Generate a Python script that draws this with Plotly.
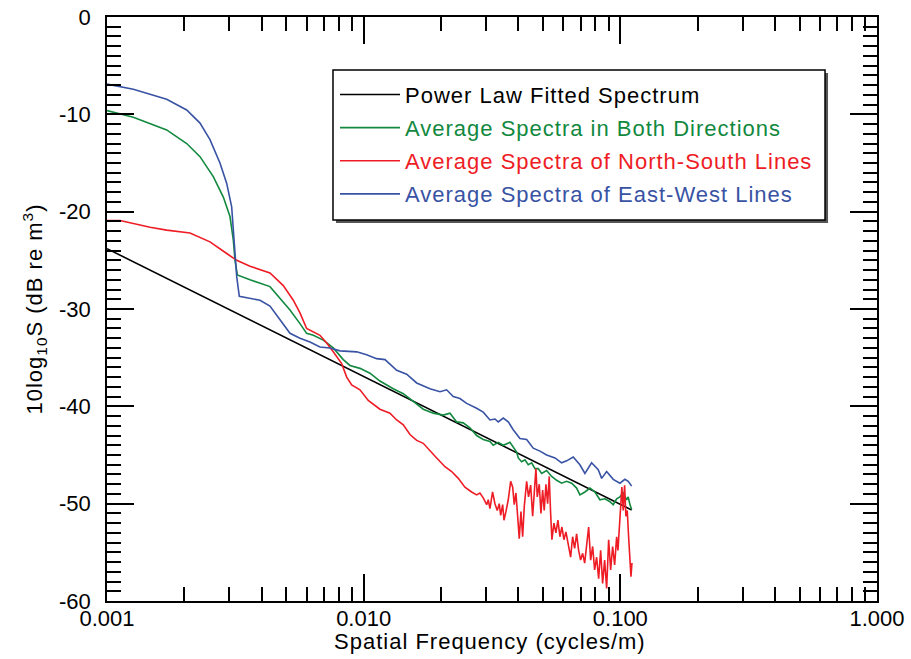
import plotly.graph_objects as go

# ---------------- data ----------------
fit_freq = [0.001, 0.1107]
fit_db = [-23.8, -50.65]

both_freq = [0.001, 0.001266, 0.001708, 0.002044, 0.002303, 0.002595, 0.002839, 0.003014,
             0.003105, 0.003153, 0.003219, 0.003607, 0.004315, 0.004720, 0.005163, 0.005647,
             0.005996, 0.006366, 0.006960, 0.007613, 0.008327, 0.008844, 0.009674, 0.01058,
             0.01157, 0.01304, 0.01427, 0.01561, 0.01707, 0.01867, 0.02042, 0.02169, 0.02303,
             0.02443, 0.02595, 0.02755, 0.02923, 0.03105, 0.03198, 0.03345, 0.03498, 0.03715,
             0.03945, 0.04003, 0.04126, 0.04250, 0.04377, 0.04514, 0.04649, 0.04788, 0.04936,
             0.05163, 0.05401, 0.05649, 0.05907, 0.06177, 0.06461, 0.06756, 0.06958, 0.07278,
             0.07613, 0.07963, 0.08327, 0.08710, 0.09109, 0.09383, 0.09674, 0.09963, 0.1026,
             0.1058, 0.1073, 0.1090, 0.1107]
both_db = [-9.62, -10.3, -11.6, -13.0, -14.35, -16.4, -18.5, -20.5,
           -22.9, -25.0, -26.5, -27.0, -27.7, -28.9, -30.1, -31.5,
           -32.5, -32.7, -33.2, -34.0, -35.2, -35.8, -36.1, -36.6,
           -37.4, -38.2, -38.7, -39.5, -40.3, -40.7, -40.9, -40.7, -41.6,
           -41.7, -42.2, -43.0, -43.4, -43.6, -44.0, -43.7, -44.0, -43.7,
           -44.7, -45.3, -45.7, -45.5, -46.0, -45.8, -46.4, -46.4, -46.9,
           -46.6, -47.2, -47.6, -47.9, -47.7, -47.9, -48.4, -49.1, -48.8,
           -48.4, -48.8, -49.6, -49.5, -49.8, -50.1, -49.5, -49.3, -48.9,
           -49.6, -49.3, -50.1, -50.6]

ns_freq = [0.001, 0.001124, 0.001471, 0.001708, 0.002105, 0.002519, 0.002927, 0.003202,
           0.003607, 0.004315, 0.004862, 0.005318, 0.005647, 0.005996, 0.006756, 0.007177,
           0.007613, 0.008208, 0.008585, 0.008979, 0.009674, 0.01042, 0.01157, 0.01266,
           0.01345, 0.01427, 0.01515, 0.01609, 0.01707, 0.01813, 0.01925, 0.02074, 0.02202,
           0.02337, 0.02480, 0.02634, 0.02755, 0.02838, 0.02923, 0.03015, 0.03058, 0.03105,
           0.03178, 0.03247, 0.03315, 0.03375, 0.03418, 0.03480, 0.03521, 0.03585, 0.03659,
           0.03739, 0.03807, 0.03861, 0.03920, 0.03981, 0.04038, 0.04100, 0.04163, 0.04224,
           0.04315, 0.04389, 0.04473, 0.04554, 0.04620, 0.04690, 0.04746, 0.04832, 0.04906,
           0.04981, 0.05052, 0.05130, 0.05209, 0.05284, 0.05351, 0.05413, 0.05511, 0.05611,
           0.05713, 0.05816, 0.05921, 0.06029, 0.06138, 0.06267, 0.06403, 0.06518, 0.06637,
           0.06756, 0.06879, 0.07003, 0.07130, 0.07261, 0.07391, 0.07525, 0.07662, 0.07801,
           0.07941, 0.08085, 0.08232, 0.08381, 0.08531, 0.08686, 0.08844, 0.09005, 0.09168,
           0.09333, 0.09502, 0.09674, 0.09788, 0.09901, 0.1003, 0.1014, 0.1026, 0.1039,
           0.1051, 0.1064, 0.1077, 0.1090, 0.1100, 0.1110]
ns_db = [-20.9, -20.9, -21.6, -21.9, -22.2, -23.1, -24.3, -25.0,
         -25.6, -26.3, -27.6, -29.1, -30.4, -32.0, -32.7, -33.5,
         -34.4, -35.6, -37.0, -37.8, -38.3, -39.4, -40.3, -40.7,
         -41.4, -41.9, -42.9, -43.5, -43.8, -44.5, -45.3, -46.2, -46.7,
         -47.4, -48.3, -48.8, -49.1, -48.9, -49.4, -50.1, -49.6, -50.5,
         -48.8, -50.0, -50.7, -50.0, -51.2, -50.1, -51.7, -50.8, -49.6,
         -47.7, -48.3, -50.1, -48.9, -51.3, -53.6, -50.8, -53.4, -50.3,
         -47.7, -49.3, -48.1, -51.3, -48.9, -46.4, -49.3, -48.0, -51.0,
         -48.6, -50.7, -48.0, -50.0, -47.2, -51.0, -53.7, -52.0, -53.0,
         -51.7, -53.4, -52.4, -53.7, -52.9, -54.1, -55.5, -53.4, -54.6,
         -53.1, -54.8, -55.8, -55.1, -56.1, -54.1, -52.4, -55.8, -54.4,
         -56.8, -55.5, -57.7, -54.8, -58.2, -55.8, -58.7, -53.7, -56.8,
         -54.4, -56.3, -53.4, -54.8, -52.7, -51.0, -48.3, -50.7, -48.1,
         -51.3, -50.7, -53.4, -55.8, -57.5, -56.1]

ew_freq = [0.001, 0.001266, 0.001708, 0.002044, 0.002303, 0.002519, 0.002755, 0.002927,
           0.003060, 0.003105, 0.003153, 0.003202, 0.003277, 0.003945, 0.004315, 0.004720,
           0.005163, 0.005647, 0.006177, 0.006756, 0.007391, 0.008084, 0.009392, 0.01027,
           0.01123, 0.01211, 0.01345, 0.01471, 0.01609, 0.01813, 0.01983, 0.02105, 0.02234,
           0.02372, 0.02519, 0.02755, 0.02923, 0.03105, 0.03247, 0.03345, 0.03498, 0.03659,
           0.03826, 0.04063, 0.04315, 0.04578, 0.04863, 0.05163, 0.05563, 0.05907, 0.06177,
           0.06553, 0.06958, 0.07278, 0.07728, 0.08203, 0.08458, 0.08844, 0.09383, 0.09963,
           0.1042, 0.1073, 0.1107]
ew_db = [-6.9, -7.43, -8.46, -9.55, -10.9, -12.6, -15.0, -17.1,
         -19.5, -21.6, -24.2, -26.7, -28.7, -29.1, -29.7, -31.1,
         -32.5, -33.0, -33.4, -33.9, -34.0, -34.3, -34.4, -34.7,
         -35.1, -35.2, -36.3, -36.7, -37.6, -38.2, -38.5, -38.3, -39.0,
         -39.2, -39.7, -40.2, -40.6, -41.4, -41.3, -41.6, -41.2, -41.6,
         -42.4, -43.3, -43.4, -44.3, -44.6, -45.0, -45.3, -45.8, -45.6,
         -45.2, -46.0, -46.9, -45.8, -46.5, -47.4, -46.7, -47.5, -47.9,
         -47.5, -47.7, -48.2]

x_major = [0.001, 0.01, 0.1, 1.0]
x_major_text = ["0.001", "0.010", "0.100", "1.000"]
x_minor = [m * d for d in (0.001, 0.01, 0.1) for m in range(2, 10)]
y_major = [-60, -50, -40, -30, -20, -10, 0]
y_major_text = ["-60", "-50", "-40", "-30", "-20", "-10", "0"]

names = ["Power Law Fitted Spectrum",
         "Average Spectra in Both Directions",
         "Average Spectra of North-South Lines",
         "Average Spectra of East-West Lines"]
colors = ["#000000", "#12893f", "#ee1c25", "#3953a4"]
x_title = "Spatial Frequency (cycles/m)"
y_title = "10log<sub>10</sub>S (dB re m<sup>3</sup>)"

# ---------------- figure ----------------
FONT = "Liberation Sans, Arial, Helvetica, sans-serif"
SP = "letter-spacing:1px"
fig = go.Figure()
series = [(fit_freq, fit_db), (both_freq, both_db), (ns_freq, ns_db), (ew_freq, ew_db)]
for i, ((xf, yv), nm, c) in enumerate(zip(series, names, colors)):
    fig.add_trace(go.Scatter(
        x=xf, y=yv, mode="lines",
        line=dict(color=c, width=1.6),
        name=f"<span style='color:{c};{SP}'>{nm}</span>",
        legendgroup=f"g{i}",
    ))

fig.update_layout(
    width=911, height=659,
    margin=dict(l=107, r=34, t=17, b=58, autoexpand=False),
    paper_bgcolor="white", plot_bgcolor="white",
    font=dict(family=FONT, size=22, color="black"),
    showlegend=True,
    legend=dict(
        x=0.2961, y=0.9028, xanchor="left", yanchor="top",
        bgcolor="rgba(0,0,0,0)", borderwidth=0,
        font=dict(size=22, family=FONT),
        tracegroupgap=1.5, itemwidth=60,
    ),
    xaxis=dict(
        type="log", range=[-3, 0], automargin=False,
        tickvals=x_major, ticktext=x_major_text,
        ticks="inside", ticklen=27, tickwidth=1.5, tickcolor="black",
        showline=True, linecolor="black", linewidth=1.5, mirror="allticks",
        showgrid=False, zeroline=False,
        minor=dict(tickvals=x_minor, ticks="inside", ticklen=14, tickwidth=1.5,
                   tickcolor="black", showgrid=False),
        tickfont=dict(size=22),
        ticklabelstandoff=-3,
    ),
    yaxis=dict(
        range=[-60, 0], automargin=False,
        tickvals=y_major, ticktext=y_major_text,
        ticks="inside", ticklen=27, tickwidth=1.5, tickcolor="black",
        showline=True, linecolor="black", linewidth=1.5, mirror="allticks",
        showgrid=False, zeroline=False,
        minor=dict(dtick=1, ticks="inside", ticklen=14, tickwidth=1.5,
                   tickcolor="black", showgrid=False),
        tickfont=dict(size=22),
        ticklabelstandoff=10,
        title=dict(text=f"<span style='{SP}'>{y_title}</span>",
                   font=dict(size=22), standoff=10),
    ),
    annotations=[dict(
        text=f"<span style='{SP}'>{x_title}</span>",
        xref="paper", yref="paper", x=0.4975, y=-0.0685,
        xanchor="center", yanchor="middle", showarrow=False,
        font=dict(size=22),
    )],
)

# legend drop shadow and framed box (decoration around the legend)
fig.add_shape(type="rect", xref="paper", yref="paper",
              x0=0.2974, x1=0.9364, y0=0.6473, y1=0.9041,
              fillcolor="#555555", line=dict(width=0), layer="above")
fig.add_shape(type="rect", xref="paper", yref="paper",
              x0=0.2935, x1=0.9325, y0=0.6524, y1=0.9092,
              fillcolor="white", line=dict(color="black", width=1.5), layer="above")

fig.write_html("out.html")
